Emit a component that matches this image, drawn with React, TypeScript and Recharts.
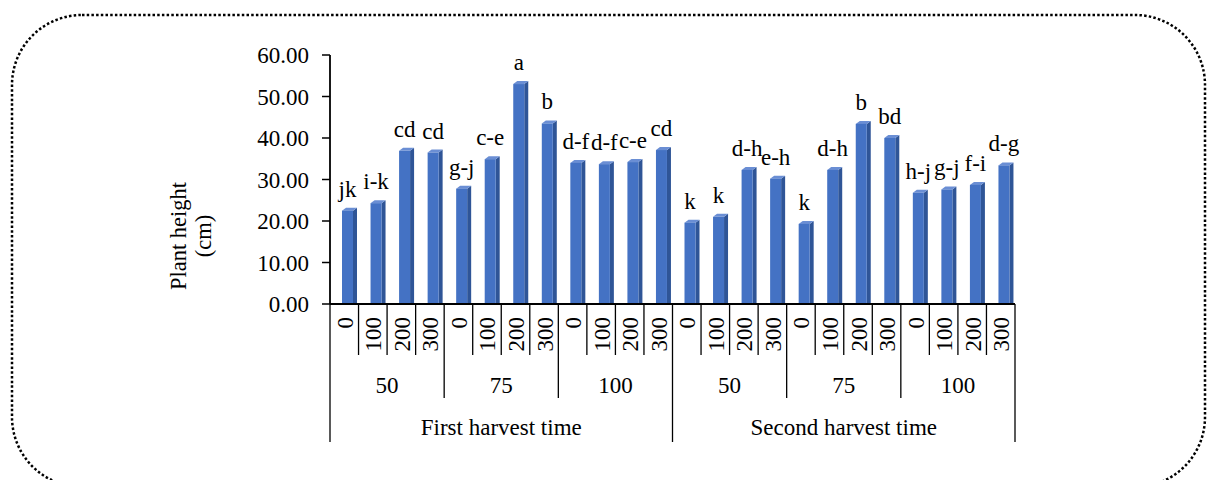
import { BarChart, Bar, XAxis, YAxis, LabelList } from 'recharts';

const harvests = ['First harvest time', 'Second harvest time'];
const levels = ['50', '75', '100'];
const doses = ['0', '100', '200', '300'];

const heights = [
  22.5, 24.3, 36.9, 36.5, 27.8, 34.9, 53.0, 43.5, 34.0, 33.7, 34.2, 37.1,
  19.6, 21.0, 32.3, 30.2, 19.3, 32.3, 43.4, 40.0, 26.8, 27.6, 28.7, 33.4,
];
const letters = [
  'jk', 'i-k', 'cd', 'cd', 'g-j', 'c-e', 'a', 'b', 'd-f', 'd-f', 'c-e', 'cd',
  'k', 'k', 'd-h', 'e-h', 'k', 'd-h', 'b', 'bd', 'h-j', 'g-j', 'f-i', 'd-g',
];
const yTicks = [0, 10, 20, 30, 40, 50, 60];

const data = heights.map((h, i) => ({
  key: `c${i}`,
  dose: doses[i % doses.length],
  level: levels[Math.floor(i / doses.length) % levels.length],
  harvest: harvests[Math.floor(i / (doses.length * levels.length))],
  height: h,
  letter: letters[i],
}));

const W = 1208;
const H = 480;
const Y_AXIS_W = 330;
const MARGIN = { top: 55, right: 193, bottom: 0, left: 0 };
const X_AXIS_H = 176;
const BAND = (W - Y_AXIS_W - MARGIN.right) / data.length;

const FONT = "'Liberation Serif', 'Times New Roman', serif";
const FS = 23;
const DEPTH = 4;
const SHIFT = 5;

function Column3D(props: any) {
  const { x, y, width, height } = props;
  if (!height) return null;
  const front = width - DEPTH;
  const x0 = x + SHIFT;
  const rise = 3;
  return (
    <g>
      <polygon
        points={`${x0 + front},${y} ${x0 + front + DEPTH},${y - rise} ${x0 + front + DEPTH},${y + height} ${x0 + front},${y + height}`}
        fill="#2F5597"
      />
      <polygon
        points={`${x0},${y} ${x0 + DEPTH},${y - rise} ${x0 + front + DEPTH},${y - rise} ${x0 + front},${y}`}
        fill="#6A8ED4"
      />
      <rect x={x0} y={y} width={front} height={height} fill="#4472C4" />
    </g>
  );
}

function LetterLabel(props: any) {
  const { x, y, width, value } = props;
  return (
    <text
      x={x + width / 2 + 3}
      y={y - 14}
      textAnchor="middle"
      fontFamily={FONT}
      fontSize={FS}
      fill="#000"
    >
      {value}
    </text>
  );
}

function CategoryTick(props: any) {
  const { x, y, index, payload } = props;
  const perGroup = doses.length;
  const perHarvest = doses.length * levels.length;
  const left = x - BAND / 2;
  const groupStart = index % perGroup === 0;
  const harvestStart = index % perHarvest === 0;
  const end = harvestStart ? y + 138 : groupStart ? y + 94 : y + 51;
  const d = data[index];
  const ty = y + 13;
  return (
    <g>
      <line x1={left} y1={y} x2={left} y2={end} stroke="#000" strokeWidth={1.3} />
      {index === data.length - 1 && (
        <line x1={x + BAND / 2} y1={y} x2={x + BAND / 2} y2={y + 138} stroke="#000" strokeWidth={1.3} />
      )}
      <text
        x={x + 1}
        y={ty}
        transform={`rotate(-90 ${x + 1} ${ty})`}
        textAnchor="end"
        dominantBaseline="central"
        fontFamily={FONT}
        fontSize={FS}
        fill="#000"
      >
        {d ? d.dose : payload.value}
      </text>
      {index % perGroup === 1 && (
        <text x={x + BAND / 2} y={y + 81} textAnchor="middle" dominantBaseline="central" fontFamily={FONT} fontSize={FS} fill="#000">
          {d.level}
        </text>
      )}
      {index % perHarvest === 5 && (
        <text x={x + BAND / 2} y={y + 123} textAnchor="middle" dominantBaseline="central" fontFamily={FONT} fontSize={FS} fill="#000">
          {d.harvest}
        </text>
      )}
    </g>
  );
}

function YLabel() {
  return (
    <g fontFamily={FONT} fontSize={22.5} fill="#000">
      <text x={178} y={236} transform="rotate(-90 178 236)" textAnchor="middle" dominantBaseline="central">
        Plant height
      </text>
      <text x={203} y={236} transform="rotate(-90 203 236)" textAnchor="middle" dominantBaseline="central">
        (cm)
      </text>
    </g>
  );
}

export default function App() {
  return (
    <div style={{ position: 'absolute', left: 0, top: 0, width: W, height: H, background: '#fff' }}>
      <svg width={W} height={H} style={{ position: 'absolute', left: 0, top: 0 }}>
        <rect
          x={12}
          y={15}
          width={1193}
          height={472}
          rx={70}
          ry={70}
          fill="none"
          stroke="#000"
          strokeWidth={2.5}
          strokeDasharray="2.5 2.2"
        />
      </svg>
      <div style={{ position: 'absolute', left: 0, top: 0 }}>
        <BarChart width={W} height={H} data={data} margin={MARGIN} barSize={15}>
          <XAxis
            dataKey="key"
            height={X_AXIS_H}
            interval={0}
            tickLine={false}
            tickSize={0}
            tickMargin={0}
            axisLine={{ stroke: '#000', strokeWidth: 1.8 }}
            tick={<CategoryTick />}
          />
          <YAxis
            width={Y_AXIS_W}
            domain={[0, 60]}
            ticks={yTicks}
            interval={0}
            tickFormatter={(v: number) => v.toFixed(2)}
            tick={{ fill: '#000', fontSize: FS, fontFamily: FONT }}
            tickSize={8}
            tickMargin={13}
            tickLine={{ stroke: '#000', strokeWidth: 1.5 }}
            axisLine={{ stroke: '#000', strokeWidth: 1.8 }}
            label={{ content: <YLabel /> }}
          />
          <Bar dataKey="height" shape={<Column3D />} isAnimationActive={false}>
            <LabelList dataKey="letter" content={<LetterLabel />} />
          </Bar>
        </BarChart>
      </div>
    </div>
  );
}
